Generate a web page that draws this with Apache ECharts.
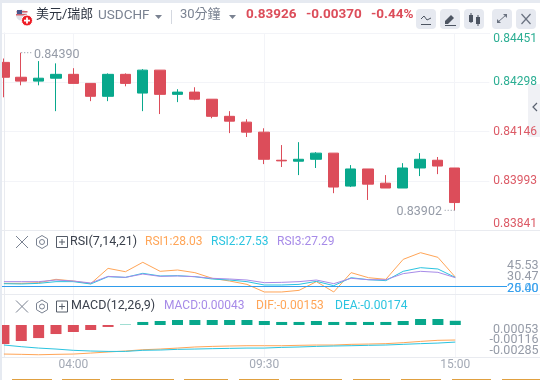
<!DOCTYPE html>
<html><head><meta charset="utf-8">
<style>html,body{margin:0;padding:0;background:#fff}#c{width:540px;height:380px}</style>
<script src="https://cdn.jsdelivr.net/npm/echarts@6/dist/echarts.min.js"></script>
</head><body><div id="c"></div>
<script>
const timeTicks = {4:'04:00',15:'09:30',26:'15:00'};
const priceTicks = [0.83841,0.839935,0.84146,0.842985,0.84451];
const priceLabels = ['0.83841','0.83993','0.84146','0.84298','0.84451'];
// open, close, low, high
const candles = [
[.84360,.84314,.84252,.84372],[.84314,.84302,.84289,.84390],[.84302,.84311,.84289,.84364],[.84311,.84323,.84209,.84357],
[.84323,.84295,.84295,.84342],[.84295,.84255,.84240,.84295],[.84255,.84323,.84240,.84326],[.84323,.84295,.84286,.84326],
[.84265,.84336,.84209,.84339],[.84336,.84261,.84200,.84336],[.84261,.84268,.84237,.84277],[.84268,.84246,.84243,.84283],
[.84246,.84193,.84187,.84246],[.84193,.84178,.84141,.84209],[.84175,.84144,.84129,.84184],[.84144,.84060,.84045,.84156],
[.84057,.84055,.84036,.84104],[.84054,.84060,.84011,.84113],[.84060,.84079,.84033,.84082],[.84079,.83974,.83955,.84079],
[.83977,.84030,.83974,.84042],[.84030,.83983,.83934,.84030],[.83986,.83971,.83971,.84011],[.83971,.84033,.83971,.84048],
[.84033,.84060,.84008,.84079],[.84057,.84039,.84014,.84067],[.84033,.83926,.83902,.84033]];
const rsi1 = [19.9,19.9,20.8,25.1,22.9,19.5,39.2,34.9,47.0,35.4,37.1,33.7,26.4,22.9,18.6,8.8,8.8,10.9,22.1,8.8,33.7,27.2,25.1,50.8,59.4,53.4,28.03];
const rsi2 = [19.5,19.1,19.9,22.1,22.1,19.1,28.5,27.6,32.8,29.4,29.8,28.5,25.5,24.2,22.1,17.8,17.8,18.6,22.5,16.9,27.2,24.6,23.4,35.4,40.1,38.4,27.53];
const rsi3 = [22.1,22.1,22.1,24.2,22.9,20.4,28.9,27.6,31.9,28.9,29.4,28.5,26.4,25.5,24.2,20.8,21.2,22.1,24.2,19.5,26.4,24.6,24.6,32.4,35.4,34.1,27.29];
const rsiTicks = [15.3,15.3,30.47,45.53];
const rsiLabels = ['25.40','20.00','30.47','45.53'];
const rsiLevel = 16.1;
const macdHist = [-.00194,-.00163,-.00133,-.00092,-.00071,-.00051,-.0002,.00004,.00031,.00041,.00051,.00051,.00051,.00051,.00051,.00041,.00031,.00031,.00041,.00031,.00031,.00031,.00031,.00041,.00061,.00061,.00043];
const dif = [-.00296,-.00299,-.00303,-.00299,-.00296,-.00286,-.00275,-.00265,-.00252,-.00245,-.00235,-.00224,-.00218,-.00214,-.00211,-.00211,-.00211,-.00207,-.00204,-.00204,-.00197,-.00194,-.00190,-.00180,-.00167,-.00156,-.00153];
const dea = [-.00204,-.00221,-.00235,-.00245,-.00258,-.00265,-.00269,-.00269,-.00258,-.00255,-.00248,-.00245,-.00241,-.00238,-.00235,-.00235,-.00228,-.00224,-.00218,-.00214,-.00211,-.00207,-.00204,-.00197,-.0019,-.00184,-.00174];
const macdTicks = [-.00245,-.00139,-.00034];
const macdLabels = ['-0.00285','-0.00116','0.00053'];
const extremes = [{value:[1,.84390],text:'0.84390',end:1.65,pos:'right'},{value:[26,.83902],text:'0.83902',end:25.35,pos:'left'}];

const RED='#dc4d5a',GREEN='#08a88c',ORANGE='#ffa557',CYAN='#2bc4e0',PURPLE='#a78be8',BLUE='#2f9cec',GRAY='#7a8291',LINE='#f3f4f8',BORDER='#e9ebf0';
const FONT='Roboto,"Noto Sans CJK TC",sans-serif';
const XMAX=28;
const xy=(a)=>a.map((v,i)=>[i,v]);
const gridBase={left:2,width:488,show:false,containLabel:false};
const xAxis=(g,labels)=>({type:'value',gridIndex:g,min:-0.11,max:XMAX,
  axisLine:{show:false},
  axisTick:{show:false,customValues:[4,15,26]},
  splitLine:{show:true,lineStyle:{color:LINE,width:1}},
  axisLabel:{show:labels,customValues:[4,15,26],formatter:v=>timeTicks[v]||'',color:'#a3a9b5',fontFamily:FONT,fontSize:12,margin:2}
});
// right-hand value labels of the two small panels, placed by the panel's scale
const sideLabels=(axis,ticks,labels,colorOf,dy)=>({type:'scatter',xAxisIndex:axis,yAxisIndex:axis,symbolSize:1,silent:true,clip:false,
  itemStyle:{color:'rgba(0,0,0,0)'},
  data:ticks.map((v,i)=>({value:[XMAX,v],label:{formatter:labels[i],color:colorOf(v,i)}})),
  label:{show:true,position:'right',distance:48,align:'right',offset:[0,dy],fontFamily:FONT,fontSize:12.5}});
const opt={
 animation:false,backgroundColor:'#fff',
 grid:[
  {...gridBase,top:33,height:197},
  {...gridBase,top:230,height:64},
  {...gridBase,top:294,height:63}],
 xAxis:[xAxis(0,false),xAxis(1,false),xAxis(2,true)],
 yAxis:[
  {type:'value',gridIndex:0,position:'right',min:.83841,max:.84451,
   axisLine:{show:true,lineStyle:{color:BORDER}},axisTick:{show:false,customValues:priceTicks},
   splitLine:{show:true,lineStyle:{color:LINE}},
   axisLabel:{customValues:priceTicks,margin:4,align:'left',fontFamily:FONT,fontSize:12,hideOverlap:false,showMinLabel:true,showMaxLabel:true,
     verticalAlignMinLabel:'bottom',verticalAlignMaxLabel:'top',
     formatter:(v)=>priceLabels[priceTicks.indexOf(v)],
     color:(v)=>parseFloat(v)>.8424?'#2cae93':'#dc5a66'}},
  {type:'value',gridIndex:1,position:'right',min:6.2,max:88.6,
   axisLine:{show:true,lineStyle:{color:BORDER}},axisTick:{show:false},splitLine:{show:false},axisLabel:{show:false}},
  {type:'value',gridIndex:2,position:'right',min:-.00326,max:.00316,
   axisLine:{show:true,lineStyle:{color:BORDER}},axisTick:{show:false},splitLine:{show:false},axisLabel:{show:false}}
 ],
 series:[
  {type:'candlestick',xAxisIndex:0,yAxisIndex:0,barWidth:11,
   data:candles.map((c,i)=>[i,...c]),encode:{x:0,y:[1,2,3,4]},
   itemStyle:{color:GREEN,color0:RED,borderColor:GREEN,borderColor0:RED,borderWidth:1}},
  ...extremes.map(e=>({type:'line',xAxisIndex:0,yAxisIndex:0,data:[e.value,[e.end,e.value[1]]],symbol:'none',silent:true,
    lineStyle:{color:'#8a909c',type:[1,2],width:1}})),
  ...extremes.map(e=>({type:'scatter',xAxisIndex:0,yAxisIndex:0,symbolSize:1,silent:true,itemStyle:{color:'rgba(0,0,0,0)'},
    data:[[e.end,e.value[1]]],
    label:{show:true,position:e.pos,distance:1,offset:[0,2],formatter:e.text,color:GRAY,fontSize:12.5,fontFamily:FONT}})),
  {type:'line',xAxisIndex:1,yAxisIndex:1,data:xy(rsi1),symbol:'none',lineStyle:{color:ORANGE,width:1}},
  {type:'line',xAxisIndex:1,yAxisIndex:1,data:xy(rsi2),symbol:'none',lineStyle:{color:CYAN,width:1}},
  {type:'line',xAxisIndex:1,yAxisIndex:1,data:xy(rsi3),symbol:'none',lineStyle:{color:PURPLE,width:1},
   markLine:{silent:true,symbol:'none',label:{show:false},lineStyle:{color:BLUE,width:1,type:'solid'},data:[{yAxis:rsiLevel}]}},
  sideLabels(1,rsiTicks,rsiLabels,(v)=>v<20?BLUE:GRAY,2),
  {type:'bar',xAxisIndex:2,yAxisIndex:2,barWidth:11,data:macdHist.map((v,i)=>({value:[i,v],itemStyle:{color:v<0?RED:GREEN}}))},
  {type:'line',xAxisIndex:2,yAxisIndex:2,data:xy(dif),symbol:'none',lineStyle:{color:ORANGE,width:1}},
  {type:'line',xAxisIndex:2,yAxisIndex:2,data:xy(dea),symbol:'none',lineStyle:{color:CYAN,width:1}},
  sideLabels(2,macdTicks,macdLabels,()=>GRAY,1.5)
 ],
 graphic:[]
};
const t=(x,y,text,fill,size,extra)=>({type:'text',left:x,top:y-size/2-1,z:50,style:{text,fill,fontSize:size,fontFamily:FONT,...(extra||{})}});
const rr=(x,y,w,h,fill,r,z)=>({type:'rect',z:z==null?40:z,shape:{x,y,width:w,height:h,r:r||0},style:{fill}});
const ln=(x1,y1,x2,y2,c,w)=>({type:'line',z:50,shape:{x1,y1,x2,y2},style:{stroke:c,lineWidth:w||1}});
const tri=(x,y,c)=>({type:'polygon',z:50,shape:{points:[[x,y],[x+7,y],[x+3.5,y+4]]},style:{fill:c}});
const poly=(pts,c)=>({type:'polygon',z:50,shape:{points:pts},style:{fill:c}});
const hex=(x,y,c)=>({type:'polygon',z:50,shape:{points:[[x,y-6.5],[x+5.5,y-3.2],[x+5.5,y+3.2],[x,y+6.5],[x-5.5,y+3.2],[x-5.5,y-3.2]]},style:{fill:'none',stroke:c,lineWidth:1}});
const circ=(x,y,r,fill,stroke)=>({type:'circle',z:50,shape:{cx:x,cy:y,r},style:{fill,stroke,lineWidth:stroke?1:0}});
const g=[];
g.push(rr(0,0,540,3,'#e6eaf1'),rr(0,0,2,380,'#e6eaf1'));
g.push(ln(2,33.5,490,33.5,LINE),ln(2,230.5,540,230.5,BORDER),ln(2,294.5,540,294.5,BORDER),ln(2,357.5,540,357.5,BORDER));
// header: flag badge
g.push(circ(21.5,15,5.5,'#dfe1e8'),rr(16,14,11,1.5,'#d4606c',0,51),rr(16.5,11,11,1.5,'#d4606c',0,51),rr(17,10,5,4,'#47568c',0,51));
g.push(Object.assign(circ(27,20.5,5.5,'#ee1c25','#fff'),{z:52}),rr(24,19.7,6,1.8,'#fff',0,53),rr(26.1,17.5,1.8,6,'#fff',0,53));
g.push(t(36,16,'美元/瑞郎','#2c3340',13),t(98,17,'USDCHF',GRAY,13.5),tri(155,15,GRAY),ln(171.5,10,171.5,24,'#d4d8e0'));
g.push(t(180,16,'30分鐘',GRAY,13),tri(229,15,GRAY));
g.push(t(246,16,'0.83926',RED,13.5,{fontWeight:'bold'}),t(306,16,'-0.00370',RED,13.5,{fontWeight:'bold'}),t(371,16,'-0.44%',RED,13.5,{fontWeight:'bold'}));
[416,440,464,492,516].forEach(x=>g.push(rr(x,9,20,20,'#e6e9f0',4)));
// toolbar glyphs
const ink='#4d5562';
g.push(ln(421,24.5,431,24.5,ink),{type:'polyline',z:50,shape:{points:[[421,19],[424,16],[427,20],[431,18]]},style:{stroke:ink,fill:'none'}});
g.push(poly([[445,21],[451,15],[454,18],[448,24],[445,24]],ink),ln(445,25.5,456,25.5,ink));
g.push(rr(469,15,4,7,ink,0,50),ln(471,13,471,23,ink),rr(476,17,4,7,ink,0,50),ln(478,15,478,26,ink));
g.push(ln(498,22,506,15,'#6a7280'),poly([[503,14],[507,14],[507,18]],'#6a7280'),poly([[497,19],[497,23],[501,23]],'#6a7280'));
g.push(ln(521.5,14,530.5,24,'#6a7280',1.2),ln(530.5,14,521.5,24,'#6a7280',1.2));
// side tab
g.push(rr(528,84,12,53,'#f0f1f5',0,0),{type:'polyline',z:50,shape:{points:[[537,103],[533,107],[537,111]]},style:{stroke:'#5a6270',fill:'none',lineWidth:1.2}});
// indicator rows
const icons=(y)=>[ln(16,y-6,28,y+6,'#7a8291'),ln(28,y-6,16,y+6,'#7a8291'),hex(42,y,'#7a8291'),circ(42,y,2.5,'none','#7a8291'),
  {type:'rect',z:50,shape:{x:56.5,y:y-5.5,width:11,height:11},style:{fill:'none',stroke:'#555c68'}},ln(59,y,65,y,'#555c68'),ln(62,y-3,62,y+3,'#555c68')];
g.push(...icons(242),...icons(306.5));
g.push(t(70,243,'RSI(7,14,21)','#3a404c',12.5),t(145,243,'RSI1:28.03',ORANGE,12),t(211,243,'RSI2:27.53',CYAN,12),t(277,243,'RSI3:27.29',PURPLE,12));
g.push(t(71,307,'MACD(12,26,9)','#3a404c',12.5),t(164,307,'MACD:0.00043',PURPLE,12),t(256,307,'DIF:-0.00153',ORANGE,12),t(335,307,'DEA:-0.00174',CYAN,12));
g.push(ln(490,286.5,507,286.5,BLUE));
// bottom strip
[[12,52],[62,100],[111,174],[184,228],[239,279],[290,342],[353,390],[401,441],[452,491],[502,540]].forEach(s=>g.push(rr(s[0],379,s[1]-s[0],1,'#e0a040')));
opt.graphic=g;
echarts.init(document.getElementById('c'),null,{renderer:'canvas'}).setOption(opt);
</script></body></html>
